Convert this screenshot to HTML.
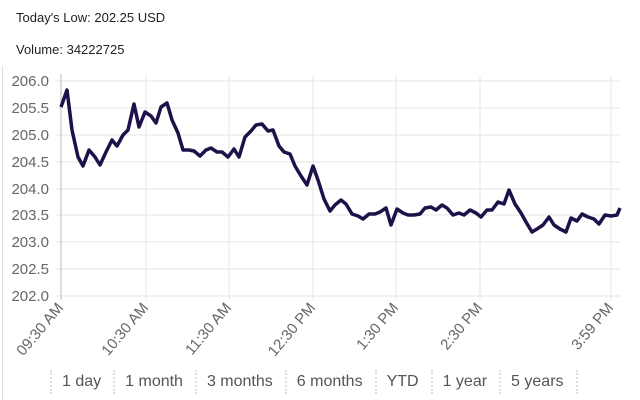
<!DOCTYPE html>
<html><head><style>
body{margin:0;width:640px;height:400px;background:#fff;overflow:hidden;font-family:"Liberation Sans",sans-serif;position:relative}
.t{position:absolute;left:16px;font-size:13px;color:#222}
.btns{position:absolute;left:50px;top:370px;display:flex;font-size:16px;color:#555}
.btns span{border-left:2px dotted #ddd;padding:0 12px 0 10px;line-height:24px}
.btns span:last-child{border-right:2px dotted #ddd}
</style></head><body>
<div class="t" style="top:10px">Today's Low: 202.25 USD</div>
<div class="t" style="top:42px">Volume: 34222725</div>
<div style="position:absolute;left:2px;top:66px;width:1px;height:334px;background:#ddd"></div>
<svg width="640" height="400" style="position:absolute;left:0;top:0">
<g stroke="#e4e4e4" stroke-width="1">
<line x1="56" y1="81" x2="620" y2="81"/><line x1="56" y1="108" x2="620" y2="108"/><line x1="56" y1="135" x2="620" y2="135"/><line x1="56" y1="162" x2="620" y2="162"/><line x1="56" y1="189" x2="620" y2="189"/><line x1="56" y1="215" x2="620" y2="215"/><line x1="56" y1="242" x2="620" y2="242"/><line x1="56" y1="269" x2="620" y2="269"/><line x1="56" y1="296" x2="620" y2="296"/>
<line x1="146" y1="76" x2="146" y2="300"/><line x1="229" y1="76" x2="229" y2="300"/><line x1="313" y1="76" x2="313" y2="300"/><line x1="396" y1="76" x2="396" y2="300"/><line x1="480" y1="76" x2="480" y2="300"/><line x1="611" y1="76" x2="611" y2="300"/>
</g>
<line x1="61" y1="74" x2="61" y2="300" stroke="#bbb"/>
<g font-size="15" fill="#666" text-anchor="end">
<text x="49" y="86">206.0</text><text x="49" y="113">205.5</text><text x="49" y="140">205.0</text><text x="49" y="167">204.5</text><text x="49" y="194">204.0</text><text x="49" y="220">203.5</text><text x="49" y="247">203.0</text><text x="49" y="274">202.5</text><text x="49" y="301">202.0</text>
</g>
<g font-size="15" fill="#666" text-anchor="end">
<text transform="translate(64,308) rotate(-50)">09:30 AM</text>
<text transform="translate(149,308) rotate(-50)">10:30 AM</text>
<text transform="translate(232,308) rotate(-50)">11:30 AM</text>
<text transform="translate(316,308) rotate(-50)">12:30 PM</text>
<text transform="translate(399,308) rotate(-50)">1:30 PM</text>
<text transform="translate(483,308) rotate(-50)">2:30 PM</text>
<text transform="translate(614,308) rotate(-50)">3:59 PM</text>
</g>
<polyline fill="none" stroke="#1e1048" stroke-width="3.5" stroke-linejoin="round" points="61,107 67,90 72,130 78,157 83,166 89,150 95,157 100,165 106,152 112,140 117,146 123,135 128,130 134,104 139,127 145,112 151,116 156,123 161,107 167,103 172,120 178,133 183,150 189,150 194,151 200,156 206,150 211,148 217,152 222,152 228,157 234,149 239,157 245,137 251,131 256,125 262,124 268,131 273,130 279,146 284,152 290,154 295,166 301,176 307,185 313,166 318,180 324,199 330,211 335,205 341,200 346,204 352,214 358,216 363,219 369,214 375,214 380,212 386,208 391,225 397,209 403,213 408,215 414,215 420,214 425,208 431,207 436,210 442,205 447,208 453,215 459,213 464,215 470,210 476,213 481,217 487,210 492,210 498,202 504,204 509,190 515,204 521,213 526,222 532,232 537,229 543,225 549,217 554,225 560,229 566,232 571,218 577,221 582,214 588,217 594,219 599,224 605,215 611,216 617,215 620,208"/>
</svg>
<div class="btns"><span>1 day</span><span>1 month</span><span>3 months</span><span>6 months</span><span>YTD</span><span>1 year</span><span>5 years</span></div>
</body></html>
